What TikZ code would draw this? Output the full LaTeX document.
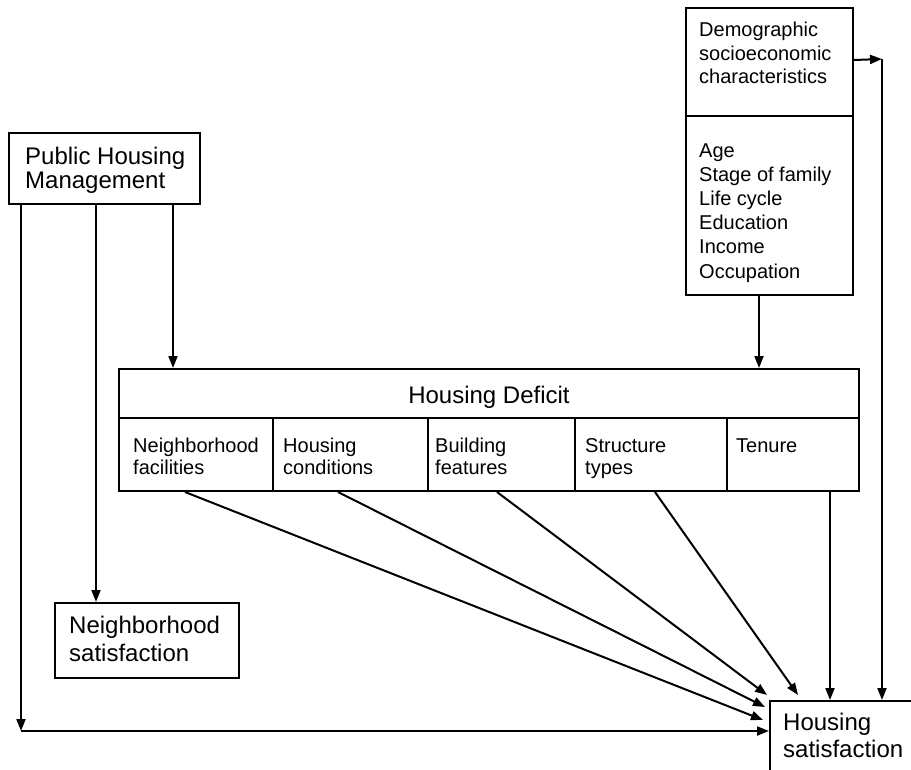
\documentclass[tikz,border=0pt]{standalone}
\usepackage{fontspec}
\setmainfont{Liberation Sans}
\usetikzlibrary{arrows.meta}
\begin{document}
\begin{tikzpicture}[x=1pt,y=-1pt,
  box/.style={draw, line width=2pt, inner sep=0pt, anchor=north west},
  conn/.style={line width=2pt, -{Triangle[length=12pt,width=9pt]}},
  bigtxt/.style={font=\fontsize{24}{24}\selectfont, anchor=base west, inner sep=0pt},
  smalltxt/.style={font=\fontsize{20}{20}\selectfont, anchor=base west, inner sep=0pt}]
\useasboundingbox (0,0) rectangle (911,769);
\clip (0,0) rectangle (911,769);
% boxes
\node[box, minimum width=191pt, minimum height=71pt] (phm) at (8,132) {};
\node[box, minimum width=167pt, minimum height=108pt] (demotop) at (685,7) {};
\node[box, minimum width=167pt, minimum height=179pt] (demobot) at (685,115) {};
\node[box, minimum width=740pt, minimum height=49pt] (hd) at (118,368) {};
\node[box, minimum width=154pt, minimum height=73pt] (c1) at (118,417) {};
\node[box, minimum width=155pt, minimum height=73pt] (c2) at (272,417) {};
\node[box, minimum width=147pt, minimum height=73pt] (c3) at (427,417) {};
\node[box, minimum width=152pt, minimum height=73pt] (c4) at (574,417) {};
\node[box, minimum width=132pt, minimum height=73pt] (c5) at (726,417) {};
\node[box, minimum width=184pt, minimum height=75pt] (ns) at (54,602) {};
\node[box, minimum width=180pt, minimum height=120pt] (hs) at (769,700) {};
% texts
\node[bigtxt] (phm1) at (25,164) {Public Housing};
\node[bigtxt] (phm2) at (25,188) {Management};
\node[smalltxt] (d1) at (699,36) {Demographic};
\node[smalltxt] (d2) at (699,60) {socioeconomic};
\node[smalltxt] (d3) at (699,83) {characteristics};
\node[smalltxt] (e1) at (699,157) {Age};
\node[smalltxt] (e2) at (699,181) {Stage of family};
\node[smalltxt] (e3) at (699,205) {Life cycle};
\node[smalltxt] (e4) at (699,229) {Education};
\node[smalltxt] (e5) at (699,253) {Income};
\node[smalltxt] (e6) at (699,278) {Occupation};
\node[bigtxt, anchor=base] (hdt) at (489,403) {Housing Deficit};
\node[smalltxt] (c1a) at (133,452) {Neighborhood};
\node[smalltxt] (c1b) at (133,474) {facilities};
\node[smalltxt] (c2a) at (283,452) {Housing};
\node[smalltxt] (c2b) at (283,474) {conditions};
\node[smalltxt] (c3a) at (435,452) {Building};
\node[smalltxt] (c3b) at (435,474) {features};
\node[smalltxt] (c4a) at (585,452) {Structure};
\node[smalltxt] (c4b) at (585,474) {types};
\node[smalltxt] (c5a) at (736,452) {Tenure};
\node[bigtxt] (ns1) at (69,633) {Neighborhood};
\node[bigtxt] (ns2) at (69,661) {satisfaction};
\node[bigtxt] (hs1) at (783,730) {Housing};
\node[bigtxt] (hs2) at (783,757) {satisfaction};
% coordinates
\coordinate (corner) at (21,731);
\coordinate (rc) at (882,59);
\coordinate (t1) at (763,720);
\coordinate (t2) at (765,707);
\coordinate (t3) at (767,695);
\coordinate (t4) at (798,695);
% connectors
\draw[conn] ([xshift=13pt]phm.south west) -- (corner);
\draw[conn] (corner) -- (corner -| hs.west);
\draw[conn] ([xshift=88pt]phm.south west) -- ([xshift=88pt]phm.south west |- ns.north);
\draw[conn] ([xshift=165pt]phm.south west) -- ([xshift=165pt]phm.south west |- hd.north);
\draw[conn] ([xshift=74pt]demobot.south west) -- ([xshift=74pt]demobot.south west |- hd.north);
\draw[conn] ([yshift=2pt]demotop.east) -- (rc);
\draw[conn] (rc) -- (rc |- hs.north);
\draw[conn] ([xshift=104pt]c5.south west) -- ([xshift=104pt]c5.south west |- hs.north);
\draw[conn] ([xshift=67pt]c1.south west) -- (t1);
\draw[conn] ([xshift=66pt]c2.south west) -- (t2);
\draw[conn] ([xshift=70pt]c3.south west) -- (t3);
\draw[conn] ([xshift=81pt]c4.south west) -- (t4);
\end{tikzpicture}
\end{document}
